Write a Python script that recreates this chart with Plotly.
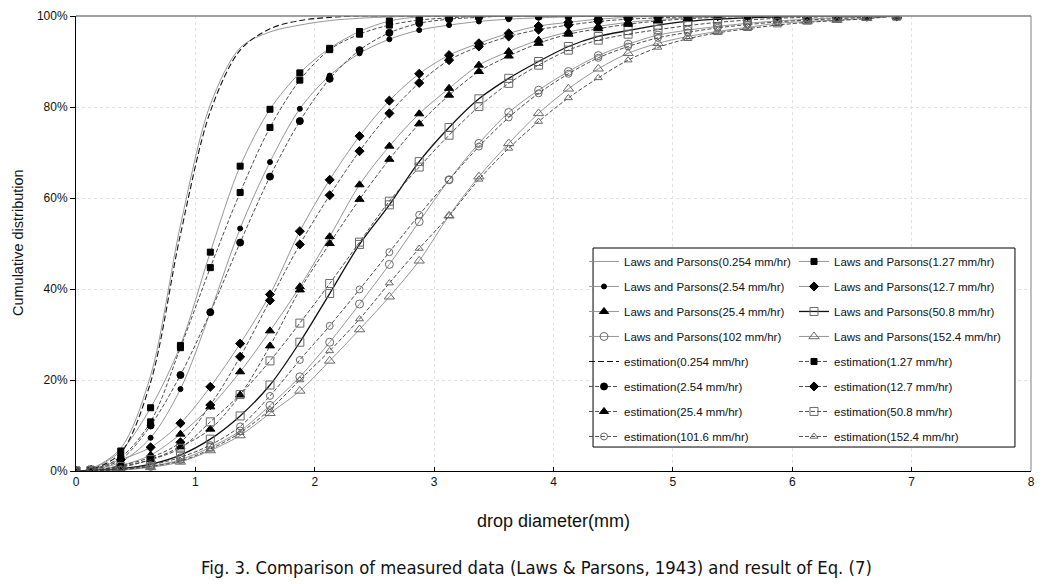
import plotly.graph_objects as go

# drop diameter classes (mm)
diam = [0, 0.125, 0.375, 0.625, 0.875, 1.125, 1.375, 1.625, 1.875, 2.125, 2.375, 2.625, 2.875,
        3.125, 3.375, 3.625, 3.875, 4.125, 4.375, 4.625, 4.875, 5.125, 5.375, 5.625, 5.875,
        6.125, 6.375, 6.625, 6.875]

# cumulative distribution (%)
lp_0254 = [0, 0.5, 5.0, 21.0, 54.0, 80.5, 93.0, 96.5, 98.0, 99.0, 99.5, 99.8, 100, 100, 100, 100,
           100, 100, 100, 100, 100, 100, 100, 100, 100, 100, 100, 100, 100]
lp_127 = [0, 0.4, 4.4, 13.9, 27.6, 48.1, 67.0, 79.5, 87.5, 92.9, 96.6, 98.9, 99.8, 100, 100, 100,
          100, 100, 100, 100, 100, 100, 100, 100, 100, 100, 100, 100, 100]
lp_254 = [0, 0.2, 2.0, 7.3, 18.0, 34.9, 53.3, 67.9, 79.6, 86.9, 91.8, 94.9, 96.9, 98.0, 98.8, 99.3,
          99.6, 99.8, 100, 100, 100, 100, 100, 100, 100, 100, 100, 100, 100]
lp_1270 = [0, 0.2, 2.5, 5.2, 10.5, 18.5, 28.0, 38.8, 52.7, 64.0, 73.6, 81.4, 87.3, 91.4, 94.0, 96.2,
           97.8, 98.6, 99.3, 99.7, 100, 100, 100, 100, 100, 100, 100, 100, 100]
lp_254b = [0, 0.1, 1.2, 3.5, 8.1, 14.1, 21.8, 30.8, 40.5, 51.5, 62.9, 71.4, 78.5, 84.1, 89.2, 92.2,
           94.7, 96.5, 97.7, 98.6, 99.2, 99.6, 99.8, 100, 100, 100, 100, 100, 100]
lp_508 = [0, 0.1, 0.5, 1.5, 3.5, 7.0, 12.1, 18.9, 28.3, 39.0, 49.8, 58.5, 68.0, 75.5, 81.8, 86.3,
          90.0, 93.3, 95.5, 96.8, 98.0, 98.8, 99.3, 99.6, 99.8, 100, 100, 100, 100]
lp_102 = [0, 0.1, 0.3, 1.0, 2.5, 5.2, 8.8, 14.4, 20.7, 28.3, 36.7, 45.4, 54.8, 64.0, 72.0, 78.8,
          83.7, 87.8, 91.3, 93.8, 95.8, 96.9, 97.7, 98.4, 98.9, 99.3, 99.6, 99.8, 100]
lp_1524 = [0, 0.1, 0.2, 0.8, 2.0, 4.5, 7.8, 12.7, 17.6, 24.2, 31.1, 38.3, 46.2, 56.1, 64.7, 72.0,
           78.6, 84.0, 88.4, 91.8, 94.0, 95.5, 96.6, 97.5, 98.4, 98.8, 99.1, 99.5, 100]

est_0254 = [0, 0.3, 4.0, 19.5, 52.0, 79.0, 92.5, 97.2, 99.0, 99.7, 100, 100, 100, 100, 100, 100,
            100, 100, 100, 100, 100, 100, 100, 100, 100, 100, 100, 100, 100]
est_127 = [0, 0.3, 3.0, 10.8, 27.1, 44.7, 61.2, 75.5, 85.9, 92.6, 96.0, 98.0, 99.1, 99.6, 99.9, 100,
           100, 100, 100, 100, 100, 100, 100, 100, 100, 100, 100, 100, 100]
est_254 = [0, 0.2, 2.5, 10.0, 21.1, 34.9, 50.2, 64.7, 76.9, 86.2, 92.5, 96.3, 98.4, 99.3, 99.7, 100,
           100, 100, 100, 100, 100, 100, 100, 100, 100, 100, 100, 100, 100]
est_1270 = [0, 0.1, 1.2, 3.0, 6.3, 14.5, 25.1, 37.5, 49.8, 60.6, 70.3, 78.6, 85.3, 90.3, 93.3, 95.5,
            97.0, 98.0, 98.8, 99.3, 99.6, 99.8, 100, 100, 100, 100, 100, 100, 100]
est_254b = [0, 0.1, 0.8, 2.5, 5.3, 9.2, 16.7, 27.5, 39.8, 50.0, 59.7, 68.5, 76.3, 82.6, 87.8, 91.2,
            94.0, 96.0, 97.2, 98.2, 98.9, 99.4, 99.7, 99.9, 100, 100, 100, 100, 100]
est_508 = [0, 0.1, 1.0, 2.5, 5.0, 10.8, 16.8, 24.2, 32.5, 41.2, 50.3, 59.3, 66.8, 73.8, 80.1, 85.2,
           89.2, 92.5, 94.7, 96.0, 97.0, 97.9, 98.6, 99.1, 99.5, 99.7, 99.9, 100, 100]
est_1016 = [0, 0.1, 0.4, 1.3, 3.0, 5.7, 9.8, 16.5, 24.4, 31.9, 39.9, 48.1, 56.3, 64.0, 71.3, 77.7,
            83.0, 87.3, 90.8, 93.3, 95.2, 96.4, 97.4, 98.1, 98.7, 99.1, 99.4, 99.7, 100]
est_1524 = [0, 0.1, 0.3, 1.0, 2.2, 4.8, 8.4, 13.5, 20.0, 26.4, 33.4, 41.3, 48.9, 56.1, 64.1, 70.9,
            76.8, 82.0, 86.4, 90.3, 93.1, 95.0, 96.3, 97.2, 98.0, 98.6, 99.0, 99.4, 100]

x_ticks = [0, 1, 2, 3, 4, 5, 6, 7, 8]
y_ticks = [0, 20, 40, 60, 80, 100]

LPC = "#8a8a8a"
ESC = "#3a3a3a"
OPC = "#6a6a6a"
EST_DASH = "4px,2px"

# (name, values, line color, width, dash, marker symbol, marker size, marker color, legend)
series = [
    ("Laws and Parsons(0.254 mm/hr)", lp_0254, LPC, 0.9, "solid", None, 0, None, "legend"),
    ("Laws and Parsons(1.27 mm/hr)", lp_127, LPC, 0.9, "solid", "square", 6, "black", "legend2"),
    ("Laws and Parsons(2.54 mm/hr)", lp_254, LPC, 0.9, "solid", "circle", 5, "black", "legend"),
    ("Laws and Parsons(12.7 mm/hr)", lp_1270, LPC, 0.9, "solid", "diamond", 7, "black", "legend2"),
    ("Laws and Parsons(25.4 mm/hr)", lp_254b, LPC, 0.9, "solid", "triangle-up", 8, "black", "legend"),
    ("Laws and Parsons(50.8 mm/hr)", lp_508, "#111111", 1.3, "solid", "square-open", 8, OPC, "legend2"),
    ("Laws and Parsons(102 mm/hr)", lp_102, LPC, 0.9, "solid", "circle-open", 8, OPC, "legend"),
    ("Laws and Parsons(152.4 mm/hr)", lp_1524, LPC, 0.9, "solid", "triangle-up-open", 9, OPC, "legend2"),
    ("estimation(0.254 mm/hr)", est_0254, "#111111", 1.1, "6px,3px", None, 0, None, "legend"),
    ("estimation(1.27 mm/hr)", est_127, ESC, 0.9, EST_DASH, "square", 6, "black", "legend2"),
    ("estimation(2.54 mm/hr)", est_254, ESC, 0.9, EST_DASH, "circle", 7, "black", "legend"),
    ("estimation(12.7 mm/hr)", est_1270, ESC, 0.9, EST_DASH, "diamond", 7, "black", "legend2"),
    ("estimation(25.4 mm/hr)", est_254b, ESC, 0.9, EST_DASH, "triangle-up", 8, "black", "legend"),
    ("estimation(50.8 mm/hr)", est_508, ESC, 0.9, EST_DASH, "square-open", 8, OPC, "legend2"),
    ("estimation(101.6 mm/hr)", est_1016, ESC, 0.9, EST_DASH, "circle-open", 7, OPC, "legend"),
    ("estimation(152.4 mm/hr)", est_1524, ESC, 0.9, EST_DASH, "triangle-up-open", 7, OPC, "legend2"),
]

fig = go.Figure()
for i, (name, vals, lc, lw, dash, sym, msz, mc, leg) in enumerate(series):
    kw = dict(
        x=diam, y=vals, name=name, legend=leg, legendgroup=f"g{i}",
        line=dict(color=lc, width=lw, dash=dash, shape="spline", smoothing=0.9),
        hoverinfo="skip",
    )
    if sym is None:
        kw["mode"] = "lines"
    else:
        kw["mode"] = "lines+markers"
        kw["marker"] = dict(symbol=sym, size=msz, color=mc,
                            line=dict(color=mc, width=1))
    fig.add_trace(go.Scatter(**kw))

FONT = "Liberation Sans, Arial, sans-serif"
NARROW = "Liberation Sans Narrow, Arial Narrow, DejaVu Sans Condensed, sans-serif"

leg_common = dict(
    bgcolor="rgba(0,0,0,0)", borderwidth=0, font=dict(family=FONT, size=11.5, color="#111"),
    tracegroupgap=6, orientation="v", xanchor="left", yanchor="top", itemwidth=30,
)

# the page body adds an 8px offset, so the figure is 8px smaller and margins shifted
fig.update_layout(
    width=1046, height=576,
    margin=dict(l=68, r=23, t=8, b=113, autoexpand=False),
    paper_bgcolor="white", plot_bgcolor="white",
    showlegend=True,
    legend=dict(x=(584 - 76) / 955, y=0.4924, **leg_common),
    legend2=dict(x=(794 - 76) / 955, y=0.4924, **leg_common),
    xaxis=dict(
        range=[0, 8], tickvals=x_ticks, ticktext=[str(v) for v in x_ticks],
        showgrid=True, gridcolor="#e2e2e2", griddash="dot", gridwidth=1,
        showline=True, linecolor="black", linewidth=1,
        ticks="inside", ticklen=4, tickcolor="black",
        tickfont=dict(family=FONT, size=12, color="#111"),
        zeroline=False, automargin=False,
    ),
    yaxis=dict(
        range=[0, 100], tickvals=y_ticks, ticktext=[f"{v}%" for v in y_ticks],
        showgrid=True, gridcolor="#e2e2e2", griddash="dot", gridwidth=1,
        showline=True, linecolor="black", linewidth=1,
        ticks="outside", ticklen=5, tickcolor="black",
        tickfont=dict(family=FONT, size=12, color="#111"),
        zeroline=False, automargin=False,
    ),
    shapes=[
        dict(type="line", xref="paper", yref="paper", x0=0, x1=1, y0=1, y1=1,
             line=dict(color="#808080", width=1.5), layer="above"),
        dict(type="line", xref="paper", yref="paper", x0=1, x1=1, y0=0, y1=1,
             line=dict(color="#808080", width=1), layer="above"),
        dict(type="rect", xref="paper", yref="paper", x0=0.5414, x1=0.9832, y0=0.0527, y1=0.4901,
             fillcolor="white", line=dict(color="black", width=1), layer="above"),
    ],
    annotations=[
        dict(text="Cumulative distribution", xref="paper", yref="paper", x=(18 - 76) / 955, y=0.501,
             textangle=-90, showarrow=False, xanchor="center", yanchor="middle",
             font=dict(family=FONT, size=14.5, color="#111")),
        dict(text="drop diameter(mm)", xref="paper", yref="paper", x=0.5, y=(471 - 521) / 455,
             showarrow=False, xanchor="center", yanchor="middle",
             font=dict(family=FONT, size=18, color="#111")),
        dict(text="Fig. 3. Comparison of measured data (Laws &amp; Parsons, 1943) and result of Eq. (7)",
             xref="paper", yref="paper", x=(536 - 76) / 955, y=(471 - 567) / 455,
             showarrow=False, xanchor="center", yanchor="middle",
             font=dict(family=NARROW, size=18.3, color="#111")),
    ],
)

fig.write_html("out.html")
